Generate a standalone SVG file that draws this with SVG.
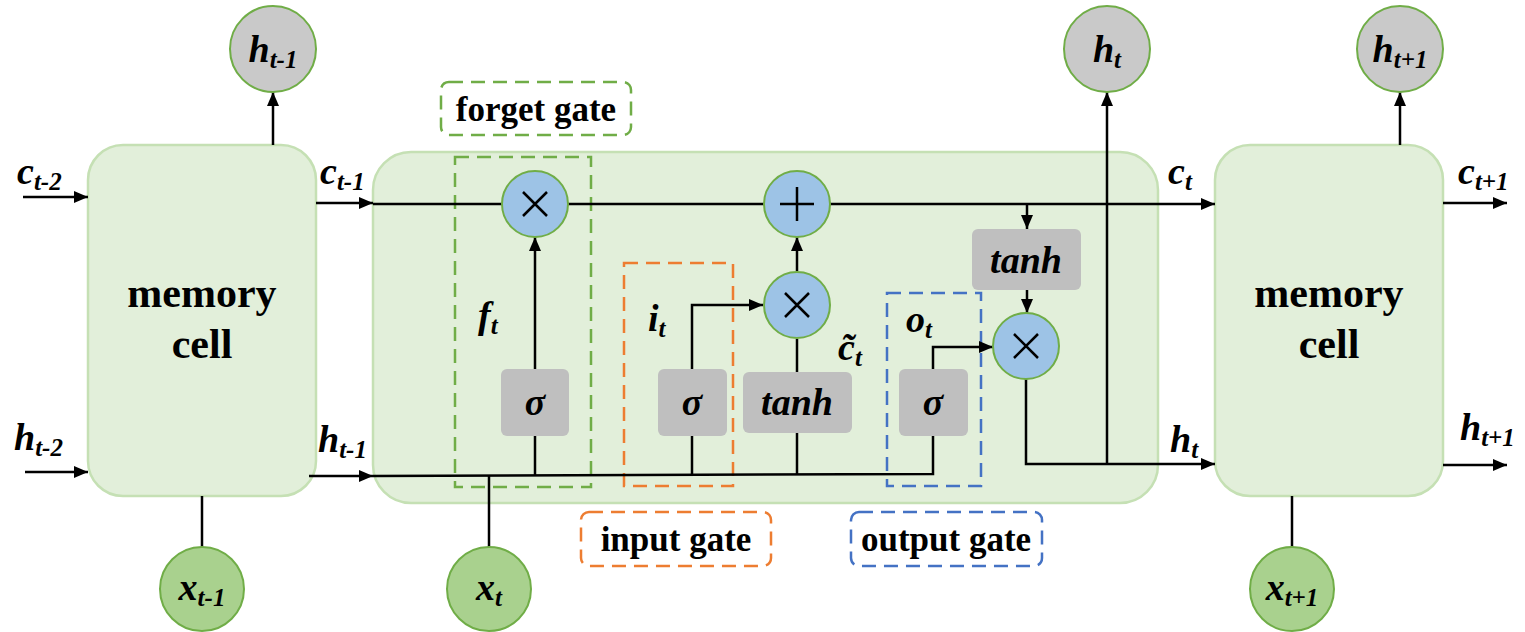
<svg xmlns="http://www.w3.org/2000/svg" width="1525" height="632" viewBox="0 0 1525 632">
<style>
.cell{fill:#E2EFDA;stroke:#C5E0B4;stroke-width:2.5}
.hc{fill:#C9C9C9;stroke:#70AD47;stroke-width:2}
.xc{fill:#A9D18E;stroke:#70AD47;stroke-width:2}
.op{fill:#9DC3E6;stroke:#70AD47;stroke-width:2}
.sym{stroke:#000;stroke-width:2.5;fill:none}
.gb{fill:#BFBFBF}
.ln{stroke:#000;stroke-width:2.5;fill:none}
.arr{stroke:#000;stroke-width:2.5;fill:none;marker-end:url(#ah)}
.dg{fill:none;stroke:#70AD47;stroke-width:2.5;stroke-dasharray:14 8}
.do{fill:none;stroke:#ED7D31;stroke-width:2.5;stroke-dasharray:14 8}
.db{fill:none;stroke:#4472C4;stroke-width:2.5;stroke-dasharray:14 8}
text{font-family:'Liberation Serif','Times New Roman',serif;font-weight:bold;fill:#000}
.m{font-style:italic;font-size:38px}
.s{font-size:25px}
.t{font-size:42px;text-anchor:middle}
.g{font-size:35px;text-anchor:middle}
.f{font-style:italic;font-size:38px;text-anchor:middle}
</style>
<defs>
<marker id="ah" viewBox="0 0 14 12" refX="14" refY="6" markerWidth="14" markerHeight="12" markerUnits="userSpaceOnUse" orient="auto">
<path d="M0,0 L14,6 L0,12 z" fill="#000"/>
</marker>
</defs>

<g id="cell-left"><rect class="cell" x="88" y="145" width="228" height="351" rx="35"/>
<text class="t" x="202" y="307">memory</text><text class="t" x="202" y="358">cell</text></g>
<g id="cell-main"><rect class="cell" x="373" y="152" width="785" height="351" rx="38"/></g>
<g id="cell-right"><rect class="cell" x="1215" y="145" width="228" height="351" rx="35"/>
<text class="t" x="1329" y="307">memory</text><text class="t" x="1329" y="358">cell</text></g>

<g id="forget-box"><rect class="dg" x="455" y="157" width="136" height="330"/></g>
<g id="input-box"><rect class="do" x="624" y="263" width="109" height="223"/></g>
<g id="output-box"><rect class="db" x="887" y="293" width="94" height="193"/></g>

<g id="connectors">
<line class="arr" x1="23" y1="197" x2="88" y2="197"/>
<line class="arr" x1="316" y1="203" x2="373" y2="203"/>
<line class="arr" x1="373" y1="204" x2="1215" y2="204"/>
<line class="arr" x1="1443" y1="203" x2="1507" y2="203"/>
<line class="arr" x1="25" y1="472" x2="88" y2="472"/>
<line class="arr" x1="309" y1="476" x2="373" y2="476"/>
<path class="ln" d="M373,476 L933,474 V436"/>
<line class="arr" x1="1443" y1="465" x2="1507" y2="465"/>
<line class="arr" x1="273" y1="145" x2="273" y2="92"/>
<line class="arr" x1="1400" y1="145" x2="1400" y2="92"/>
<line class="ln" x1="202" y1="496" x2="202" y2="547"/>
<line class="ln" x1="1292" y1="496" x2="1292" y2="547"/>
<line class="ln" x1="489" y1="547" x2="489" y2="476"/>
<line class="arr" x1="535" y1="369" x2="535" y2="237"/>
<line class="ln" x1="535" y1="436" x2="535" y2="476"/>
<path class="arr" d="M692,369 V305 H763"/>
<line class="ln" x1="692" y1="436" x2="692" y2="475"/>
<line class="ln" x1="797" y1="372" x2="797" y2="339"/>
<line class="ln" x1="797" y1="433" x2="797" y2="475"/>
<line class="arr" x1="797" y1="271" x2="797" y2="237"/>
<path class="arr" d="M933,369 V347 H993"/>
<line class="arr" x1="1027" y1="204" x2="1027" y2="229"/>
<line class="arr" x1="1027" y1="290" x2="1027" y2="313"/>
<path class="arr" d="M1026,379 V464 H1215"/>
<line class="arr" x1="1107" y1="464" x2="1107" y2="92"/>
</g>

<g id="op-forget"><circle class="op" cx="535" cy="204" r="33"/><path class="sym" d="M523,192 L547,216 M547,192 L523,216"/></g>
<g id="op-plus"><circle class="op" cx="797" cy="204" r="33"/><path class="sym" d="M780,204 H814 M797,187 V221"/></g>
<g id="op-input"><circle class="op" cx="797" cy="305" r="33"/><path class="sym" d="M785,293 L809,317 M809,293 L785,317"/></g>
<g id="op-output"><circle class="op" cx="1026" cy="346" r="33"/><path class="sym" d="M1014,334 L1038,358 M1038,334 L1014,358"/></g>

<g id="sigma-forget"><rect class="gb" x="501" y="369" width="68" height="67" rx="6"/><text class="f" x="535" y="415">σ</text></g>
<g id="sigma-input"><rect class="gb" x="658" y="369" width="69" height="67" rx="6"/><text class="f" x="692" y="415">σ</text></g>
<g id="tanh-cand"><rect class="gb" x="743" y="372" width="109" height="61" rx="6"/><text class="f" x="797" y="415">tanh</text></g>
<g id="sigma-output"><rect class="gb" x="899" y="369" width="69" height="67" rx="6"/><text class="f" x="933" y="415">σ</text></g>
<g id="tanh-out"><rect class="gb" x="972" y="229" width="109" height="61" rx="6"/><text class="f" x="1026" y="273">tanh</text></g>

<g id="h-prev-out"><circle class="hc" cx="273" cy="49" r="43"/><text class="m" x="273" y="62" text-anchor="middle">h<tspan class="s" dy="6">t-1</tspan></text></g>
<g id="h-out"><circle class="hc" cx="1107" cy="49" r="43"/><text class="m" x="1107" y="62" text-anchor="middle">h<tspan class="s" dy="6">t</tspan></text></g>
<g id="h-next-out"><circle class="hc" cx="1400" cy="49" r="43"/><text class="m" x="1400" y="62" text-anchor="middle">h<tspan class="s" dy="6">t+1</tspan></text></g>

<g id="x-prev"><circle class="xc" cx="202" cy="589" r="42"/><text class="m" x="202" y="600" text-anchor="middle">x<tspan class="s" dy="6">t-1</tspan></text></g>
<g id="x-cur"><circle class="xc" cx="489" cy="589" r="42"/><text class="m" x="489" y="600" text-anchor="middle">x<tspan class="s" dy="6">t</tspan></text></g>
<g id="x-next"><circle class="xc" cx="1292" cy="589" r="42"/><text class="m" x="1292" y="600" text-anchor="middle">x<tspan class="s" dy="6">t+1</tspan></text></g>

<g id="forget-label"><rect class="dg" x="441" y="82" width="190" height="53" rx="8"/><text class="g" x="536" y="121">forget gate</text></g>
<g id="input-label"><rect class="do" x="581" y="512" width="190" height="54" rx="8"/><text class="g" x="676" y="551">input gate</text></g>
<g id="output-label"><rect class="db" x="851" y="512" width="191" height="54" rx="8"/><text class="g" x="946" y="551">output gate</text></g>

<g id="labels">
<text class="m" x="17" y="184">c<tspan class="s" dy="6">t-2</tspan></text>
<text class="m" x="320" y="184">c<tspan class="s" dy="6">t-1</tspan></text>
<text class="m" x="14" y="450">h<tspan class="s" dy="6">t-2</tspan></text>
<text class="m" x="318" y="452">h<tspan class="s" dy="6">t-1</tspan></text>
<text class="m" x="1168" y="184">c<tspan class="s" dy="6">t</tspan></text>
<text class="m" x="1170" y="452">h<tspan class="s" dy="6">t</tspan></text>
<text class="m" x="1458" y="184">c<tspan class="s" dy="6">t+1</tspan></text>
<text class="m" x="1460" y="440">h<tspan class="s" dy="6">t+1</tspan></text>
<text class="m" x="478" y="328">f<tspan class="s" dy="6">t</tspan></text>
<text class="m" x="648" y="331">i<tspan class="s" dy="6">t</tspan></text>
<text class="m" x="906" y="332">o<tspan class="s" dy="6">t</tspan></text>
<text class="m" x="838" y="360">c̃<tspan class="s" dy="6">t</tspan></text>
</g>
</svg>
